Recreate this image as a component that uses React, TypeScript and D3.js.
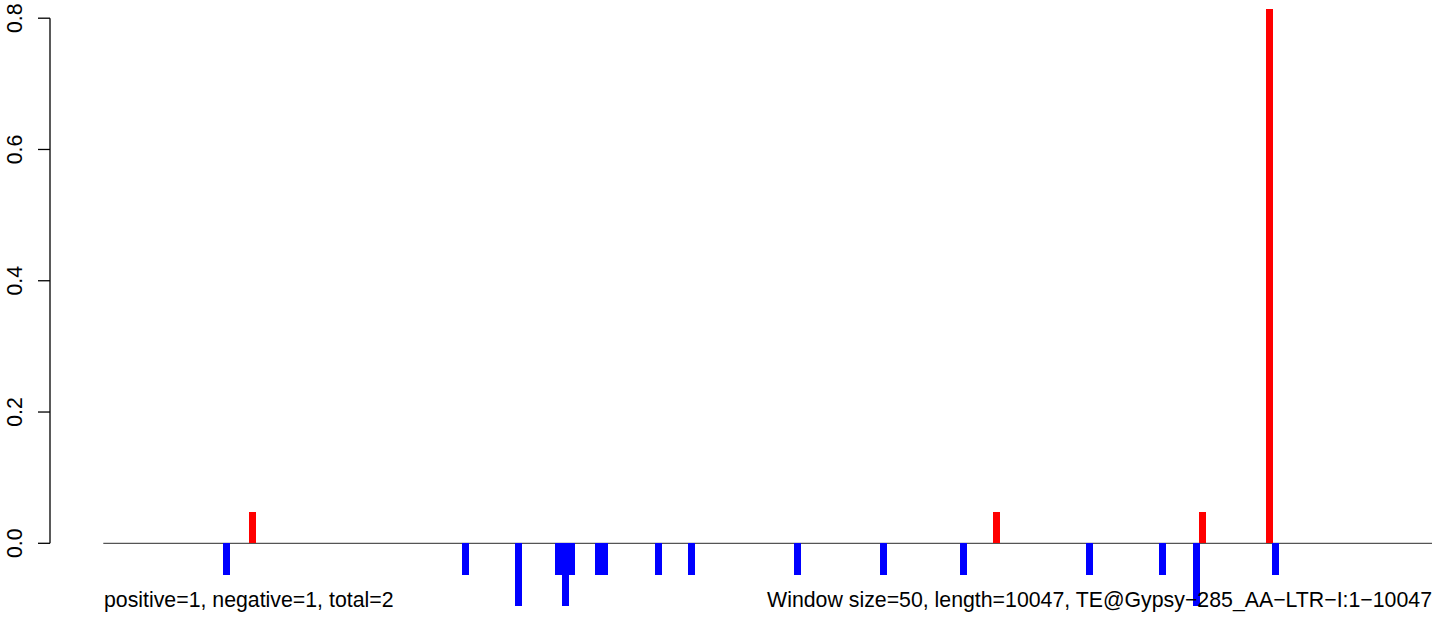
import React from "react";
import * as d3 from "d3";

const WINDOW = 50;
const posStart: number[] = [1100, 6700, 8250, 8750];
const posValue: number[] = [0.0477, 0.0477, 0.0477, 0.814];
const negStart: number[] = [900, 2700, 3100, 3400, 3450, 3500, 3700, 3750, 4150, 4400, 5200, 5850, 6450, 7400, 7950, 8200, 8800];
const negValue: number[] = [-0.0477, -0.0477, -0.0954, -0.0477, -0.0954, -0.0477, -0.0477, -0.0477, -0.0477, -0.0477, -0.0477, -0.0477, -0.0477, -0.0477, -0.0477, -0.0954, -0.0477];
const yTicks: number[] = [0, 0.2, 0.4, 0.6, 0.8];
const leftLabel = "positive=1, negative=1, total=2";
const rightLabel = "Window size=50, length=10047, TE@Gypsy\u2212285_AA\u2212LTR\u2212I:1\u221210047";

const W = 1444;
const H = 628;

export default function App() {
  const x = d3.scaleLinear().domain([0, 10000]).range([103.3, 1432]);
  const y = d3.scaleLinear().domain([0, 0.8]).range([543.3, 18.2]);
  const barW = 7;
  const font = "'Liberation Sans', Arial, Helvetica, sans-serif";
  const fs = 21.3;

  const bars = [
    ...posStart.map((s, i) => ({ s, v: posValue[i], c: "#ff0000" })),
    ...negStart.map((s, i) => ({ s, v: negValue[i], c: "#0000ff" })),
  ];

  return (
    <svg
      width={W}
      height={H}
      style={{ position: "absolute", left: 0, top: 0, background: "#fff" }}
      fontFamily={font}
    >
      <rect x={0} y={0} width={W} height={H} fill="#fff" />
      <line x1={x(0)} x2={x(10000)} y1={y(0)} y2={y(0)} stroke="#555" strokeWidth={1.2} />
      {bars.map((b, i) => {
        const cx = x(b.s + WINDOW / 2);
        const y0 = y(0);
        const y1 = y(b.v);
        const left = Math.round(cx - barW / 2);
        const top = Math.round(Math.min(y0, y1));
        const bottom = Math.round(Math.max(y0, y1));
        return (
          <rect
            key={i}
            x={left}
            y={top}
            width={barW}
            height={bottom - top}
            fill={b.c}
            shapeRendering="crispEdges"
          />
        );
      })}
      <line x1={50} x2={50} y1={y(0)} y2={y(0.8)} stroke="#000" strokeWidth={1.3} />
      {yTicks.map((t) => (
        <g key={t}>
          <line x1={38} x2={50} y1={y(t)} y2={y(t)} stroke="#000" strokeWidth={1.3} />
          <text
            transform={`translate(22,${y(t)}) rotate(-90)`}
            textAnchor="middle"
            fontSize={fs}
            fill="#000"
          >
            {t.toFixed(1)}
          </text>
        </g>
      ))}
      <text x={104} y={607} fontSize={fs} fill="#000">
        {leftLabel}
      </text>
      <text x={1432} y={607} fontSize={fs} fill="#000" textAnchor="end">
        {rightLabel}
      </text>
    </svg>
  );
}
